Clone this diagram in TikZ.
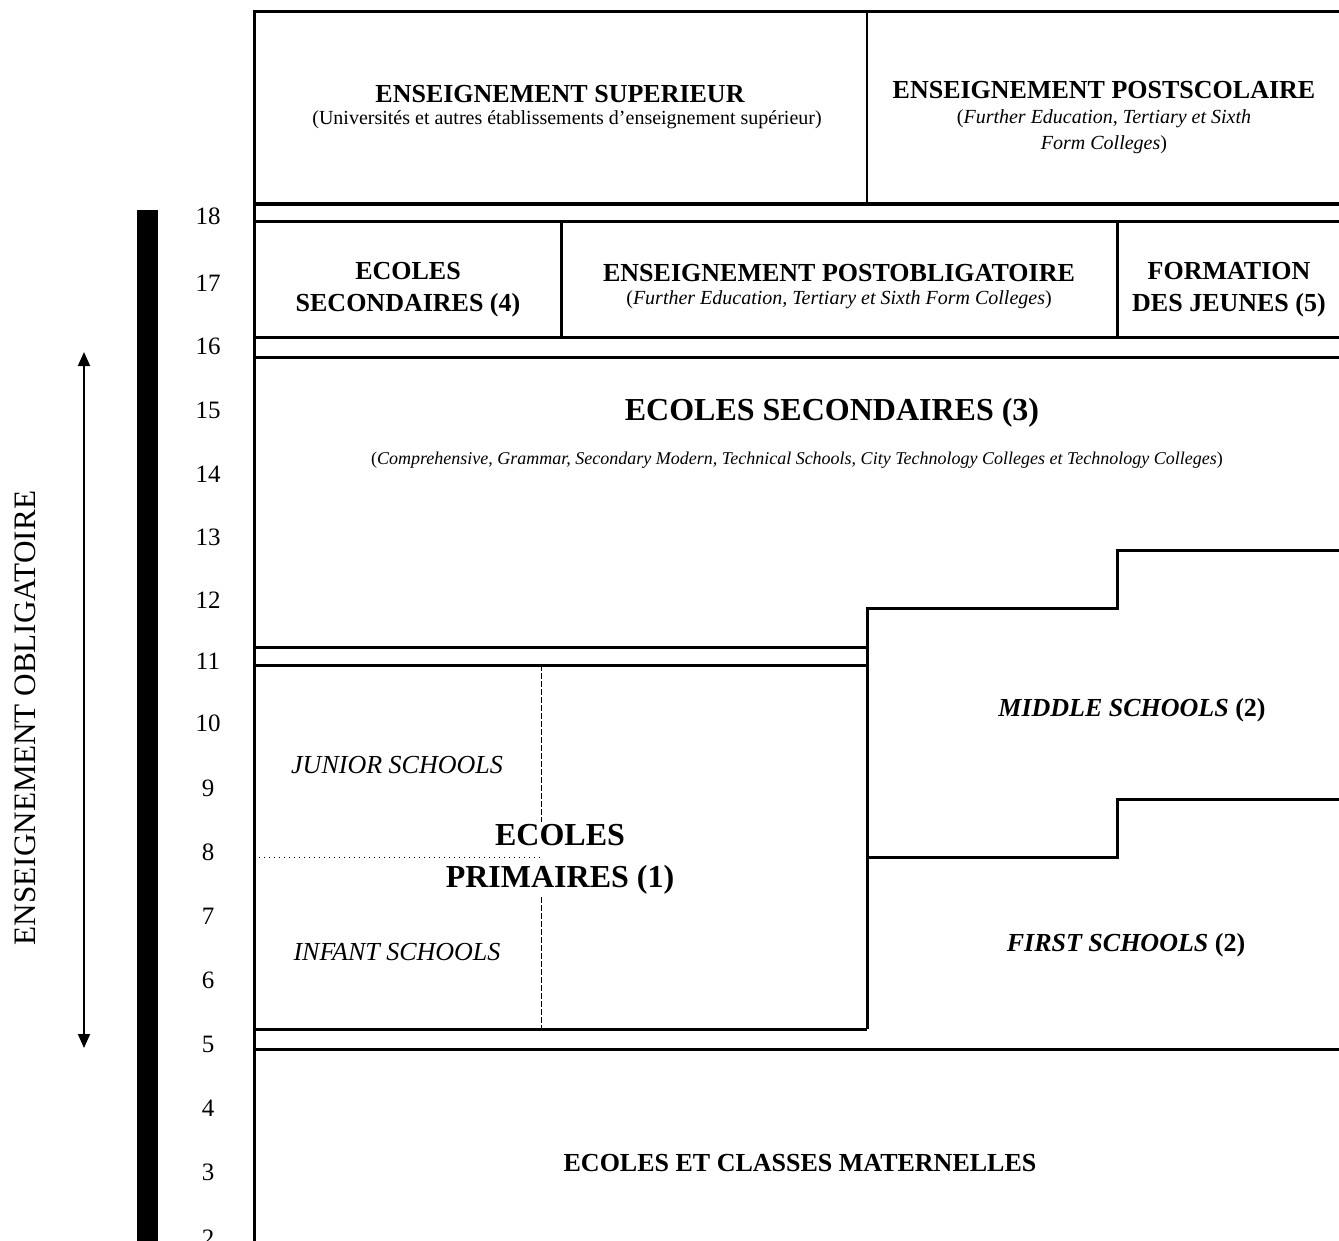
\documentclass[tikz,border=0pt]{standalone}
\usepackage{fontspec}
\setmainfont{Liberation Serif}
\usetikzlibrary{positioning,arrows.meta}

\begin{document}
\begin{tikzpicture}[x=0.5pt,y=-0.5pt,
    trait/.style={line width=1.5pt},
    age/.style={font=\fontsize{12.5}{14}\selectfont},
    titre/.style={font=\fontsize{13}{16}\selectfont\bfseries, align=center},
    grand/.style={font=\fontsize{16}{21}\selectfont\bfseries, align=center},
    sous/.style={font=\fontsize{10}{13}\selectfont, align=center},
    petit/.style={font=\fontsize{9}{11}\selectfont, align=center},
    ecole/.style={font=\fontsize{13}{16}\selectfont\itshape}]
\useasboundingbox (0,0) rectangle (1339,1241);

% cadre et bandes
\draw[trait] (1339,12) -- (254,12) -- (254,1241);
\draw[line width=1pt] (867,12) -- (867,204);
\draw[line width=1.9pt] (254,204) -- (1339,204);
\draw[trait] (254,222) -- (1339,222);
\draw[trait] (561,222) -- (561,338);
\draw[trait] (1117,222) -- (1117,338);
\draw[trait] (254,338) -- (1339,338);
\draw[trait] (254,358) -- (1339,358);

\draw[trait] (254,647) -- (867,647);
\draw[trait] (254,665) -- (867,665);
\draw[trait] (867,1029) -- (867,608) -- (1117,608) -- (1117,550) -- (1339,550);
\draw[trait] (867,857) -- (1117,857) -- (1117,799) -- (1339,799);
\draw[trait] (254,1029) -- (867,1029);
\draw[trait] (254,1049) -- (1339,1049);

% ecoles primaires
\draw[line width=0.5pt, dash pattern=on 3pt off 1pt] (541,665) -- (541,1029);

% barre et fleche
\fill (137,210) rectangle (158,1241);
\coordinate (haut) at (84,352);
\coordinate (bas) at (84,1048);
\draw[{Triangle[length=7pt,width=6pt]}-{Triangle[length=7pt,width=6pt]}, line width=0.9pt] (haut) -- (bas);
\node[rotate=90, font=\fontsize{15.6}{18}\selectfont] (oblig) at (25,718) {ENSEIGNEMENT OBLIGATOIRE};

% ages
\node[age] (a18) at (208,216) {18};
\node[age] (a17) at (208,283) {17};
\node[age] (a16) at (208,346) {16};
\node[age] (a15) at (208,410) {15};
\node[age] (a14) at (208,474) {14};
\node[age] (a13) at (208,537) {13};
\node[age] (a12) at (208,600) {12};
\node[age] (a11) at (208,661) {11};
\node[age] (a10) at (208,723) {10};
\node[age] (a9) at (208,788) {9};
\node[age] (a8) at (208,852) {8};
\node[age] (a7) at (208,916) {7};
\node[age] (a6) at (208,980) {6};
\node[age] (a5) at (208,1044) {5};
\node[age] (a4) at (208,1108) {4};
\node[age] (a3) at (208,1172) {3};
\node[age] (a2) at (208,1238) {2};

% textes
\node[titre] (sup) at (560,94) {ENSEIGNEMENT SUPERIEUR};
\node[sous] (supdet) at (567,120) {(Universités et autres établissements d'enseignement supérieur)};
\node[titre] (postsco) at (1104,90) {ENSEIGNEMENT POSTSCOLAIRE};
\node[sous] (postscodet) at (1104,132) {(\textit{Further Education, Tertiary et Sixth}\\\textit{Form Colleges})};

\node[titre] (sec4) at (408,290) {ECOLES\\SECONDAIRES (4)};
\node[titre] (postobl) at (839,273) {ENSEIGNEMENT POSTOBLIGATOIRE};
\node[sous] (postobldet) at (839,300) {(\textit{Further Education, Tertiary et Sixth Form Colleges})};
\node[titre] (jeunes) at (1229,290) {FORMATION\\DES JEUNES (5)};

\node[grand] (sec3) at (832,413) {ECOLES SECONDAIRES (3)};
\node[petit] (sec3det) at (797,460) {(\textit{Comprehensive, Grammar, Secondary Modern, Technical Schools, City Technology Colleges et Technology Colleges})};

\node[ecole] (junior) at (397,765) {JUNIOR SCHOOLS};
\node[ecole] (infant) at (397,952) {INFANT SCHOOLS};
\node[grand, fill=white, inner sep=1pt] (prim) at (560,859) {ECOLES\\PRIMAIRES (1)};
\draw[dotted, line width=0.5pt] (254,857) -- (541,857);

\node[titre] (middle) at (1132,710) {\textit{MIDDLE SCHOOLS} (2)};
\node[titre] (first) at (1126,945) {\textit{FIRST SCHOOLS} (2)};
\node[titre] (mat) at (800,1163) {ECOLES ET CLASSES MATERNELLES};
\end{tikzpicture}
\end{document}
